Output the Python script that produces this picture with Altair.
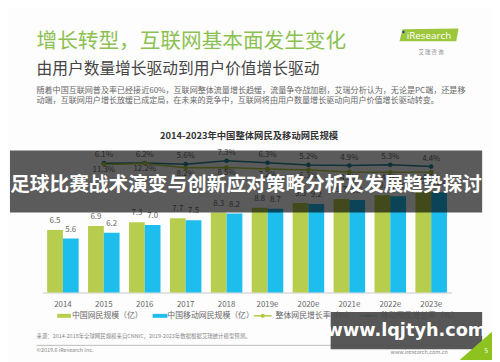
import altair as alt
import pandas as pd

FONT = "Noto Sans CJK SC"

years = ["2014", "2015", "2016", "2017", "2018", "2019e", "2020e", "2021e", "2022e", "2023e"]
total_users = [6.5, 6.9, 7.3, 7.7, 8.3, 8.8, 9.3, 9.7, 10.1, 10.5]
mobile_users = [5.6, 6.2, 7.0, 7.5, 8.2, 8.7, 9.2, 9.6, 10.0, 10.4]
rate_years = years[1:]
upper_rates = [6.1, 6.2, 5.6, 7.3, 6.3, 5.2, 4.9, 5.3, 4.4]
lower_rates = [11.3, 12.2, 8.2, 8.5, 7.2, 6.3, 4.5, 4.2, 4.3]

bar_series = ["中国网民规模（亿）", "中国移动网民规模（亿）"]
line_series = ["整体网民增长率（%）", "移动网民增长率（%）"]
GREEN = "#b6cd4e"
BLUE = "#1dbdee"
TEAL = "#23879a"
LGREEN = "#b0c93f"

title = "增长转型，互联网基本面发生变化"
subtitle = "由用户数量增长驱动到用户价值增长驱动"
para1 = "随着中国互联网普及率已经接近60%，互联网整体流量增长趋缓，流量争夺战加剧，艾瑞分析认为，无论是PC端，还是移"
para2 = "动端，互联网用户增长放缓已成定局，在未来的竞争中，互联网将由用户数量增长驱动向用户价值增长驱动转变。"
chart_title = "2014-2023年中国整体网民及移动网民规模"
overlay_text = "足球比赛战术演变与创新应对策略分析及发展趋势探讨"
source = "来源：2014-2018年全球网民规模来自CNNIC，2019-2023年数据根据艾瑞统计模型预测。"
copyright_txt = "©2019.6 iResearch Inc."
site = "www.iresearch.com.cn"
watermark = "www.lqjtyh.com"

# plot area in page coords
X0, Y0 = 43, 147.4
PW, PH = 416, 146.9


def px(x):
    return x - X0


def py(y):
    return y - Y0


bars_df = pd.DataFrame({
    "year": years * 2,
    "series": [bar_series[0]] * len(years) + [bar_series[1]] * len(years),
    "value": total_users + mobile_users,
})
upper_df = pd.DataFrame({"year": rate_years, "rate": upper_rates})
lower_df = pd.DataFrame({"year": rate_years, "rate": lower_rates})
upper_df["label"] = [f"{v:.1f}%" for v in upper_rates]
lower_df["label"] = [f"{v:.1f}%" for v in lower_rates]
dummy = pd.DataFrame({"a": [0]})

x_enc = alt.X("year:N", sort=years,
              scale=alt.Scale(domain=years, paddingInner=0.23, paddingOuter=0.115),
              axis=alt.Axis(title=None, labelAngle=0, ticks=False, labelColor="#666",
                            labelFontSize=8, labelFont=FONT, domainColor="#c8c8c8",
                            labelPadding=8, grid=False))
xoff = alt.XOffset("series:N", sort=bar_series,
                   scale=alt.Scale(domain=bar_series, paddingInner=0, paddingOuter=0))
y_bar = alt.Y("value:Q", scale=alt.Scale(domain=[0, 15]), axis=None)

bars = alt.Chart(bars_df).mark_bar().encode(
    x=x_enc, xOffset=xoff, y=y_bar,
    color=alt.Color("series:N", scale=alt.Scale(domain=bar_series, range=[GREEN, BLUE]), legend=None),
)
bar_labels = alt.Chart(bars_df).mark_text(dy=-5, baseline="bottom", fontSize=8, color="#666", font=FONT).encode(
    x=x_enc, xOffset=xoff, y=y_bar, text=alt.Text("value:Q", format=".1f"),
)

y_up = alt.Y("rate:Q", scale=alt.Scale(domain=[-59.65, 13.8], zero=False, nice=False), axis=None)
y_lo = alt.Y("rate:Q", scale=alt.Scale(domain=[-104.5, 26.1], zero=False, nice=False), axis=None)

up_line = alt.Chart(upper_df).mark_line(color=TEAL, strokeWidth=1.5).encode(x=x_enc, y=y_up)
up_pts = alt.Chart(upper_df).mark_point(filled=True, color=TEAL, size=22, opacity=1).encode(x=x_enc, y=y_up)
up_lbl = alt.Chart(upper_df).mark_text(dy=-4, baseline="bottom", fontSize=8, color="#666", font=FONT).encode(
    x=x_enc, y=y_up, text="label:N")
lo_line = alt.Chart(lower_df).mark_line(color=LGREEN, strokeWidth=1.5).encode(x=x_enc, y=y_lo)
lo_pts = alt.Chart(lower_df).mark_point(filled=True, color=LGREEN, size=22, opacity=1).encode(x=x_enc, y=y_lo)
lo_lbl = alt.Chart(lower_df).mark_text(dy=2, baseline="top", fontSize=8, color="#666", font=FONT).encode(
    x=x_enc, y=y_lo, text="label:N")


def txt(s, x, y, size, color, weight="normal", align="left", baseline="middle", font=FONT, opacity=1):
    return alt.Chart(dummy).mark_text(text=s, fontSize=size, color=color, fontWeight=weight,
                                      align=align, baseline=baseline, font=font, opacity=opacity).encode(
        x=alt.value(px(x)), y=alt.value(py(y)))


def rect(x1, x2, y1, y2, color, opacity=1):
    return alt.Chart(dummy).mark_rect(color=color, opacity=opacity).encode(
        x=alt.value(px(x1)), x2=alt.value(px(x2)), y=alt.value(py(y1)), y2=alt.value(py(y2)))


def hrule(x1, x2, y, color, width=1):
    return alt.Chart(dummy).mark_rule(color=color, strokeWidth=width).encode(
        x=alt.value(px(x1)), x2=alt.value(px(x2)), y=alt.value(py(y)))


def dot(x, y, color, size=18, shape="circle"):
    return alt.Chart(dummy).mark_point(filled=True, color=color, size=size, shape=shape, opacity=1,
                                       strokeWidth=0).encode(
        x=alt.value(px(x)), y=alt.value(py(y)))


deco = [
    txt(title, 37, 40, 21, "#8cc152"),
    txt(subtitle, 37, 67, 16, "#444444"),
    txt(para1, 37, 89, 8.2, "#666666"),
    txt(para2, 37, 99.5, 8.2, "#666666"),
    dot(436, 33, "#9cc63b", size=3600, shape="M -0.9 -0.21 L 1 -0.24 L 0.92 0.2 L -1 0.2 Z"),
    txt("iResearch", 436, 33.5, 10, "white", font="Open Sans", align="center"),
    dot(410, 29.5, "#1d4f91", size=6),
    txt("艾    瑞    咨    询", 438, 50, 5.5, "#888888", align="center"),
    txt(chart_title, 253, 135, 9.5, "#333333", weight="bold", align="center"),
    # legend
    rect(58, 72, 316, 320, GREEN),
    txt(bar_series[0], 73, 318, 8, "#666"),
    rect(155, 170, 316, 320, BLUE),
    txt(bar_series[1], 170, 318, 8, "#666"),
    hrule(258, 276, 318, LGREEN, 1.5),
    dot(267, 318, LGREEN),
    txt(line_series[0], 280, 318, 8, "#666"),
    hrule(365, 383, 318, TEAL, 1.5),
    dot(374, 318, TEAL),
    txt(line_series[1], 387, 318, 8, "#666"),
    # footer
    txt(source, 37, 339, 5.5, "#888888"),
    hrule(37, 460, 348, "#bbbbbb", 1),
    txt(copyright_txt, 37, 353, 5.5, "#888888"),
    txt(site, 455, 355, 5.5, "#888888", align="right"),
]

overlay = [
    rect(10, 490, 150, 213, "#000000", 0.64),
    txt(overlay_text, 250, 185, 20, "white", weight="bold", align="center"),
    rect(336, 490, 314, 352, "#4a4a4a", 0.93),
    txt(watermark, 413, 333, 18, "white", weight="bold", align="center", font="DejaVu Sans"),
    dot(484, 346, "#8dc21f", size=1150, shape="M -1 1 L 1 1 L 1 -0.75 Z"),
    txt("5", 494, 354, 7, "white", align="center"),
]

chart = alt.layer(
    bars, bar_labels, up_line, up_pts, up_lbl, lo_line, lo_pts, lo_lbl, *deco, *overlay
).resolve_scale(y="independent").properties(
    width=PW, height=PH,
    padding={"left": X0 - 8, "top": Y0 - 8, "right": 492 - (X0 - 8) - PW, "bottom": 354 - (Y0 - 8) - PH},
    autosize=alt.AutoSizeParams(type="none"),
    background="#fdfdfd",
).configure_view(stroke=None)

chart.save("out.html", embed_options={"renderer": "svg", "actions": False})
